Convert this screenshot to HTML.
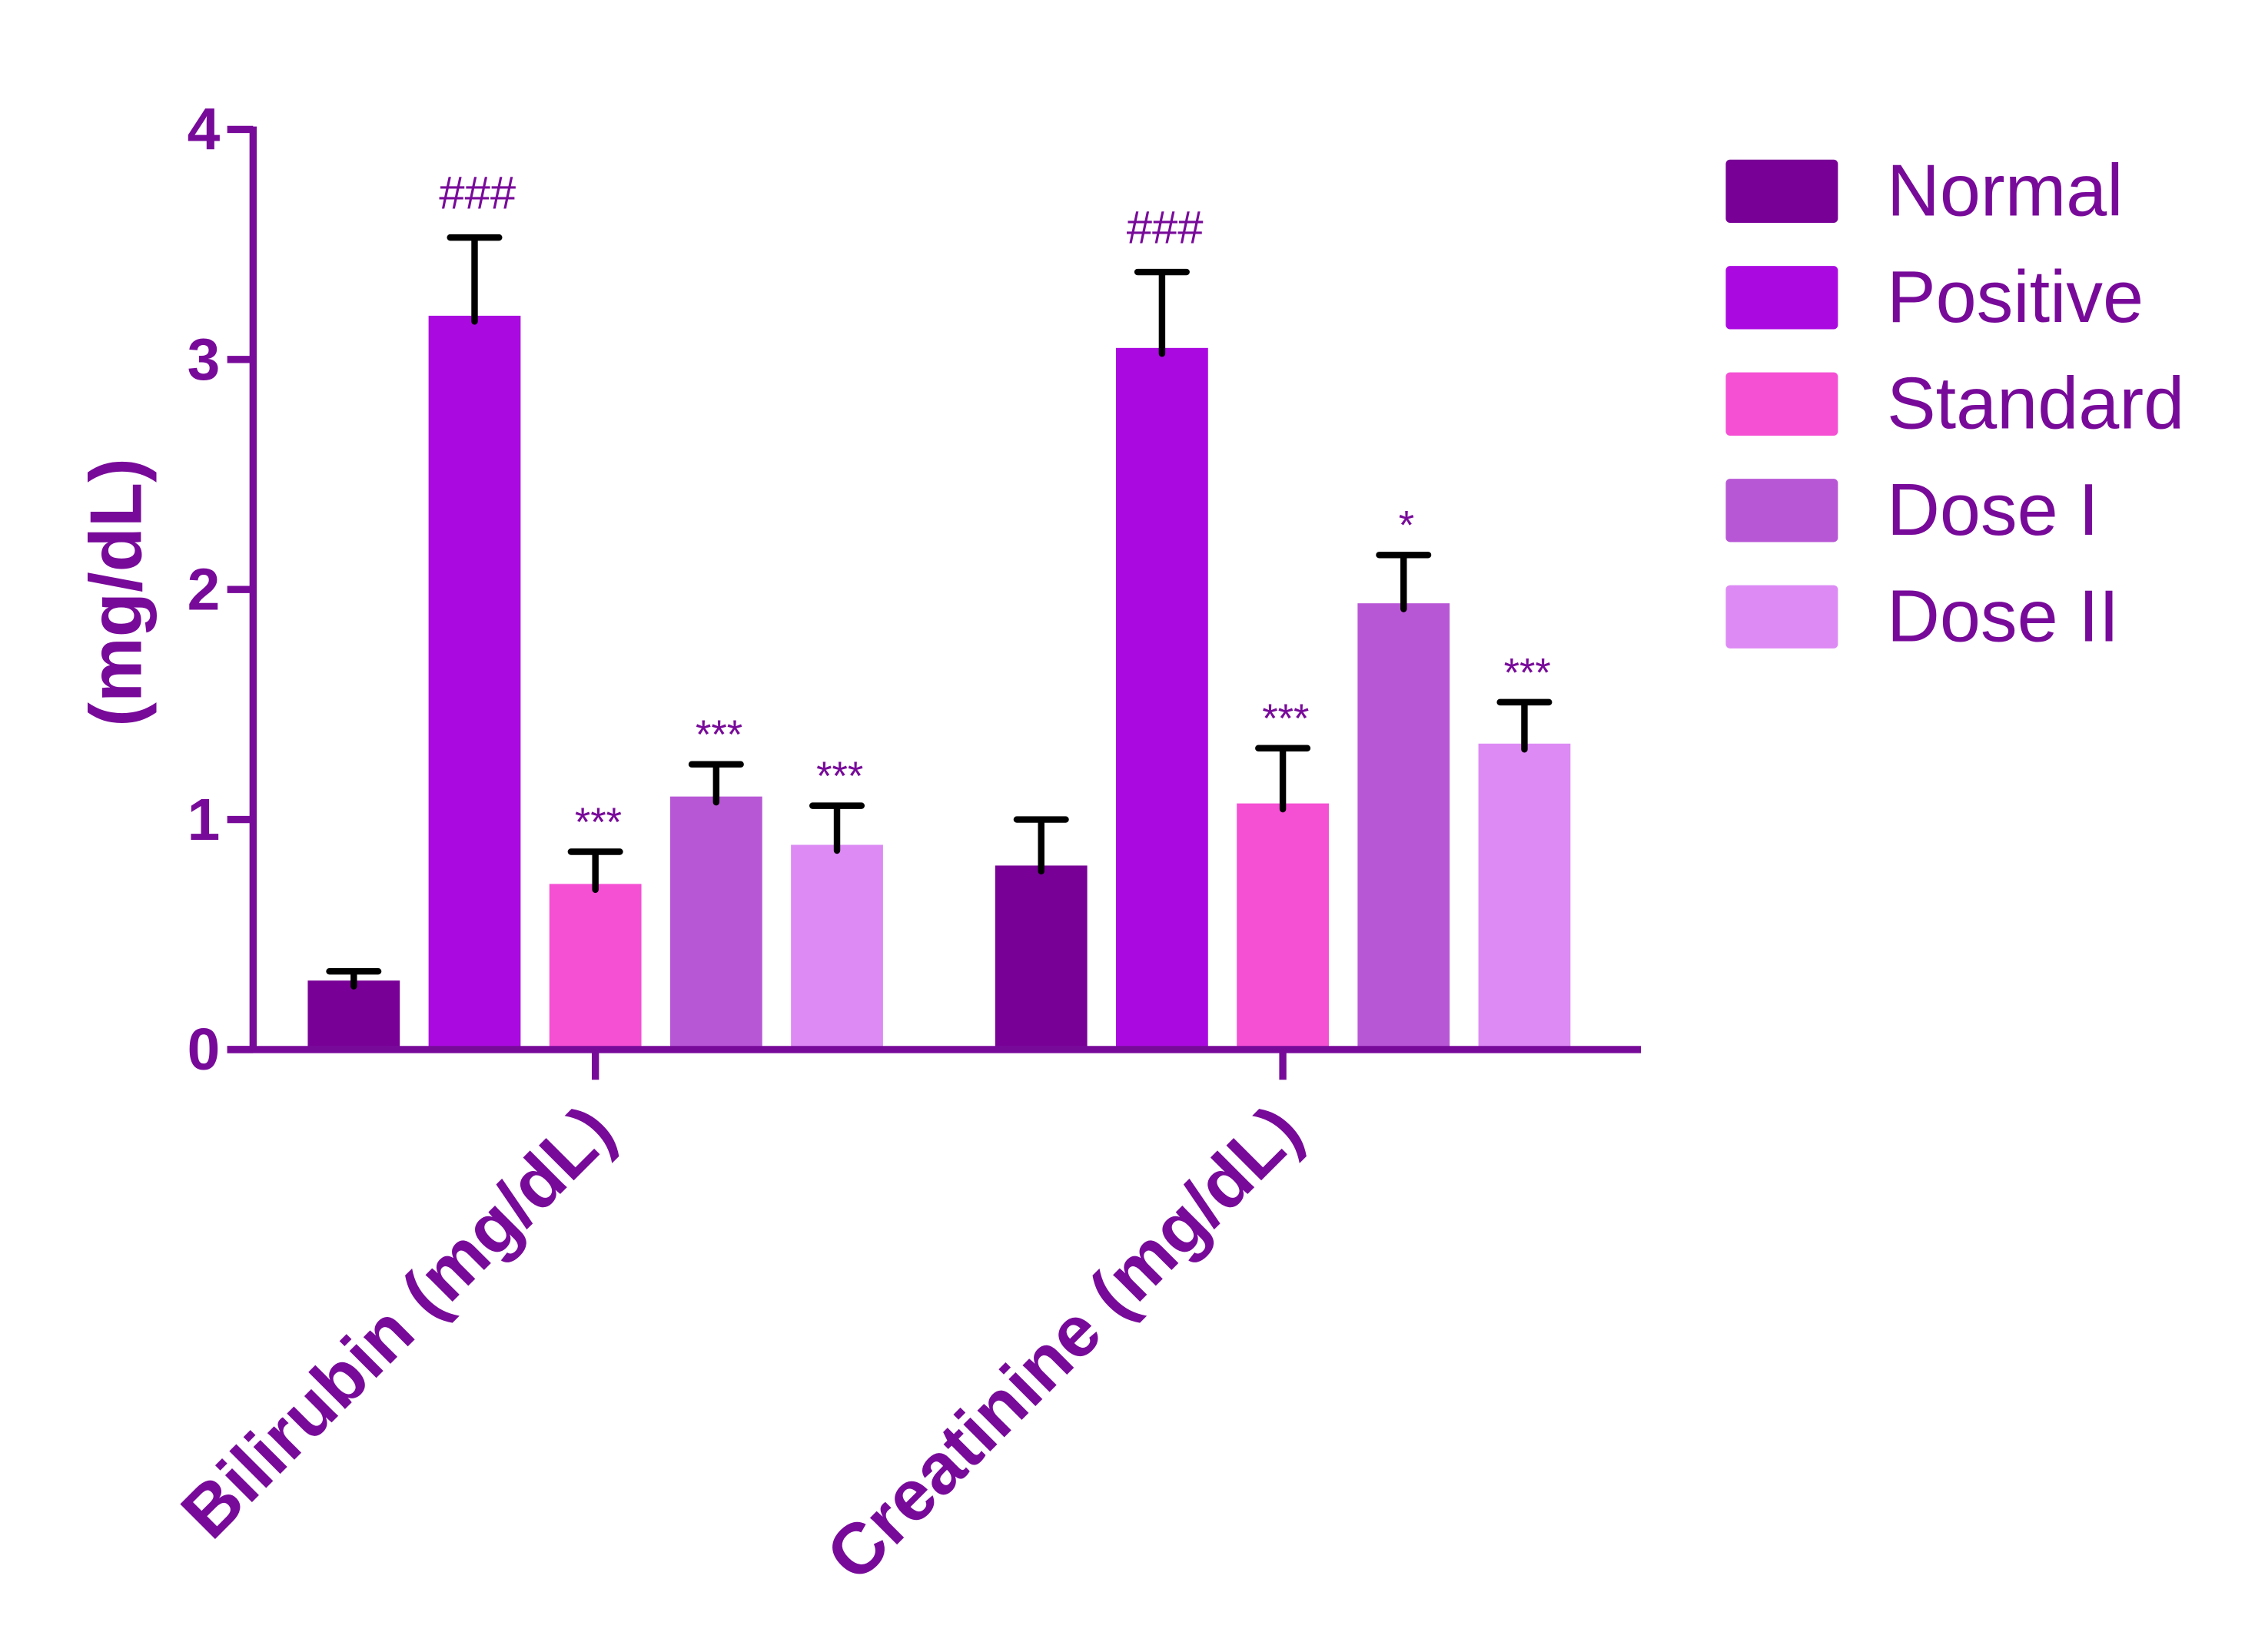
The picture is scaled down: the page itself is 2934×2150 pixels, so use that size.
<!DOCTYPE html>
<html><head><meta charset="utf-8"><style>
html,body{margin:0;padding:0;background:#fff;}
svg{display:block;font-family:"Liberation Sans",Arial,sans-serif;}
</style></head><body>
<svg id="chart" width="2934" height="2150" viewBox="0 0 1568 1149" xmlns="http://www.w3.org/2000/svg"></svg>
<script>
const categories = ["Bilirubin (mg/dL)", "Creatinine (mg/dL)"];
const seriesNames = ["Normal", "Positive", "Standard", "Dose I", "Dose II"];
const normalVals = [0.30, 0.80];
const positiveVals = [3.19, 3.05];
const standardVals = [0.72, 1.07];
const dose1Vals = [1.10, 1.94];
const dose2Vals = [0.89, 1.33];
const normalErr = [0.04, 0.20];
const positiveErr = [0.34, 0.33];
const standardErr = [0.14, 0.24];
const dose1Err = [0.14, 0.21];
const dose2Err = [0.17, 0.18];
const annotations = [["", "###", "***", "***", "***"], ["", "###", "***", "*", "***"]];
const yTicks = [0, 1, 2, 3, 4];

const colors = ["#780096", "#aa0ae0", "#f54fd3", "#b857d6", "#dd8af5"];
const values = [normalVals, positiveVals, standardVals, dose1Vals, dose2Vals];
const errs = [normalErr, positiveErr, standardErr, dose1Err, dose2Err];
const C = "#780a9a";
const NS = "http://www.w3.org/2000/svg";
const svg = document.getElementById("chart");
const y = v => 730 - v * 160;
const groupStart = [214, 692];
const barW = 64, step = 84;
const x = (g, s) => groupStart[g] + s * step;

function el(tag, attrs, text) {
  const e = document.createElementNS(NS, tag);
  for (const k in attrs) e.setAttribute(k, attrs[k]);
  if (text !== undefined) e.textContent = text;
  svg.appendChild(e);
  return e;
}

categories.forEach((c, g) => {
  seriesNames.forEach((s, i) => {
    const v = values[i][g];
    const bx = x(g, i);
    const r = el("rect", {x: bx, y: y(v), width: barW, height: y(0) - y(v), fill: colors[i]});
    
    
    const cx = bx + barW / 2, top = y(v + errs[i][g]);
    const eb = el("path", {d: `M${cx} ${y(v) + 4}V${top}M${cx - 17} ${top}H${cx + 17}`, stroke: "#000", "stroke-width": 4.5, fill: "none", "stroke-linecap": "round"});
    
    
    const a = annotations[g][i];
    if (a) {
      const isHash = a[0] === "#";
      const t = el("text", {x: cx + 2, y: top - (isHash ? 20 : 11), "text-anchor": "middle", fill: C, "font-size": isHash ? 32 : 28}, a);
      
      
    }
  });
});

const ya = el("path", {d: "M176 88V732", stroke: C, "stroke-width": 5, fill: "none"});


const xa = el("path", {d: "M158 730H1141", stroke: C, "stroke-width": 5, fill: "none"});


yTicks.forEach(v => {
  const tk = el("path", {d: `M158 ${y(v)}H176`, stroke: C, "stroke-width": 5});
  
  
  const tl = el("text", {x: 153, y: y(v) + 14, "text-anchor": "end", fill: C, "font-size": 41, "font-weight": "bold"}, String(v));
  
  
});
categories.forEach((c, g) => {
  const cx = x(g, 2) + barW / 2;
  const tk = el("path", {d: `M${cx} 730V751`, stroke: C, "stroke-width": 5});
  
  
  const t = el("text", {x: cx + 16, y: 790, "text-anchor": "end", fill: C, "font-size": 50, "font-weight": "bold", transform: `rotate(-45 ${cx + 16} 790)`}, c);
  
  
});
const yt = el("text", {x: 98, y: 412, "text-anchor": "middle", fill: C, "font-size": 51, "font-weight": "bold", transform: "rotate(-90 98 412)"}, "(mg/dL)");



seriesNames.forEach((s, i) => {
  const ly = 111 + i * 74;
  const r = el("rect", {x: 1200, y: ly, width: 78, height: 44, rx: 3, fill: colors[i]});
  
  
  const t = el("text", {x: 1312, y: ly + 39, fill: C, "font-size": 51}, s);
  
  
});
</script>
</body></html>
